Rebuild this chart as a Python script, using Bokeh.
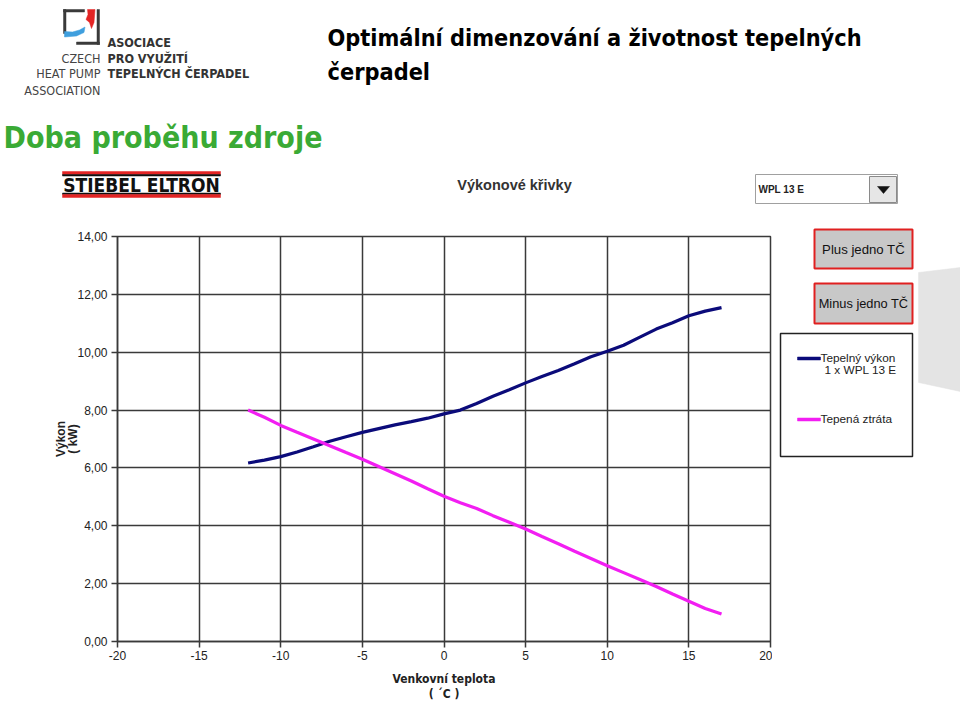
from bokeh.plotting import figure
from bokeh.layouts import column, row
from bokeh.models import Range1d, FixedTicker, Label
from bokeh.embed import file_html
from bokeh.resources import INLINE

# ---------------- data ----------------
temps = list(range(-12, 18))
heat_output = [6.17, 6.27, 6.39, 6.55, 6.73, 6.92, 7.08, 7.23, 7.36, 7.49,
               7.60, 7.72, 7.87, 8.00, 8.23, 8.48, 8.70, 8.94, 9.16, 9.37,
               9.60, 9.84, 10.03, 10.24, 10.52, 10.80, 11.02, 11.26, 11.42, 11.54]
heat_loss = [8.00, 7.75, 7.47, 7.23, 7.00, 6.77, 6.53, 6.30, 6.05, 5.80,
             5.55, 5.28, 5.02, 4.80, 4.60, 4.35, 4.12, 3.89, 3.63, 3.38,
             3.12, 2.87, 2.62, 2.38, 2.14, 1.90, 1.64, 1.39, 1.14, 0.95]
x_ticks = [-20, -15, -10, -5, 0, 5, 10, 15, 20]
x_tick_labels = ["-20", "-15", "-10", "-5", "0", "5", "10", "15", "20"]
y_ticks = [0, 2, 4, 6, 8, 10, 12, 14]
y_tick_labels = ["0,00", "2,00", "4,00", "6,00", "8,00", "10,00", "12,00", "14,00"]
series_names = ["Tepelný výkon", "Tepená ztráta"]
unit_label = "1 x WPL 13 E"
x_title = "Venkovní teplota\n( ´C )"
y_title = "Výkon\n( kW)"

BLUE = "#0b0b7a"
PINK = "#f21ef2"
GRID = "#3a3a3a"
RED = "#e32424"
NARROW = "'Liberation Sans Narrow', 'DejaVu Sans Condensed', sans-serif"
SANS = "'Liberation Sans', Arial, sans-serif"
HEAD_H = 226
W, H = 960, 703


def no_align(f):
    if "frame_align" in f.properties():
        f.frame_align = False
    return f


def deco_fig(w, h, x0, x1, y0, y1):
    f = figure(width=w, height=h, x_range=Range1d(x0, x1), y_range=Range1d(y1, y0),
               output_backend="svg", toolbar_location=None,
               x_axis_location=None, y_axis_location=None, min_border=0)
    f.outline_line_color = None
    f.background_fill_color = "white"
    f.border_fill_color = "white"
    f.xgrid.visible = False
    f.ygrid.visible = False
    return no_align(f)


def label(f, text, px, py, size, color="#000000", bold=False, align="left", font=SANS):
    f.add_layout(Label(x=px, y=py, text=text, text_font_size=f"{size}px",
                       text_color=color, text_font_style="bold" if bold else "normal",
                       text_align=align, text_baseline="middle", text_font=font))


def poly(f, pts, fill, line=None, lw=1.0):
    f.patch([a for a, b in pts], [b for a, b in pts], fill_color=fill,
            line_color=line if line else fill, line_width=lw if line else 0.5)


def rect(f, x0, y0, x1, y1, fill, line=None, lw=1.0):
    poly(f, [(x0, y0), (x1, y0), (x1, y1), (x0, y1)], fill, line, lw)


# ================= header =================
hd = deco_fig(W, HEAD_H, 0, W, 0, HEAD_H)

# association logo
rect(hd, 63, 9, 65.5, 33, "#3a3a3a")
rect(hd, 63, 9, 84, 11.5, "#3a3a3a")
rect(hd, 96.5, 9, 99, 44, "#3a3a3a")
rect(hd, 76, 41.5, 99, 44, "#3a3a3a")
poly(hd, [(87, 9), (94.5, 9), (93.5, 22), (91, 28), (89, 22), (85.5, 19), (87.5, 14)], RED)
poly(hd, [(64, 31), (72, 31.5), (79, 29.5), (84.5, 26.5), (83.5, 32), (76, 35.5), (64, 36.5)], "#3f9fde")
label(hd, "ASOCIACE", 107, 42, 12.5, "#333333", True, font=NARROW)
label(hd, "PRO VYUŽITÍ", 107, 58, 12.5, "#333333", True, font=NARROW)
label(hd, "TEPELNÝCH ČERPADEL", 107, 73, 12.5, "#333333", True, font=NARROW)
label(hd, "CZECH", 100, 58, 12.5, "#444444", align="right", font=NARROW)
label(hd, "HEAT PUMP", 100, 73, 12.5, "#444444", align="right", font=NARROW)
label(hd, "ASSOCIATION", 100, 90, 12.5, "#444444", align="right", font=NARROW)

# slide titles
label(hd, "Optimální dimenzování a životnost tepelných", 327, 37, 23.3, "#000000", True, font=NARROW)
label(hd, "čerpadel", 327, 71, 23.3, "#000000", True, font=NARROW)
label(hd, "Doba proběhu zdroje", 3, 137, 30, "#3aaa35", True, font=NARROW)

# Stiebel Eltron logo
rect(hd, 62, 171, 220, 174, RED)
rect(hd, 62, 174, 220, 175.5, "#111111")
rect(hd, 62, 192.5, 220, 194, "#111111")
rect(hd, 62, 194, 220, 197, RED)
label(hd, "STIEBEL ELTRON", 141, 184, 19, "#111111", True, align="center", font=NARROW)

# chart title
label(hd, "Výkonové křivky", 514, 184, 14.5, "#333333", True, align="center")

# dropdown
rect(hd, 755, 174, 897, 203, "white", "#a0a0a0", 1)
rect(hd, 869, 176, 896, 202, "#e6e6e6", "#8a8a8a", 1)
poly(hd, [(877, 186), (889, 186), (883, 193)], "#111111")
label(hd, "WPL 13 E", 758, 188.5, 10, "#222222", True)

# ================= chart =================
CHART_W = 772
p = figure(width=CHART_W, height=H - HEAD_H, x_range=Range1d(-20, 20), y_range=Range1d(0, 14),
           output_backend="svg", toolbar_location=None,
           min_border_left=117, min_border_right=CHART_W - 770,
           min_border_top=236 - HEAD_H, min_border_bottom=H - 642)
no_align(p)
p.background_fill_color = "white"
p.border_fill_color = "white"
p.outline_line_color = GRID
p.outline_line_width = 1.5

for ax in (p.xaxis[0], p.yaxis[0]):
    ax.axis_line_color = GRID
    ax.axis_line_width = 1.5
    ax.major_tick_line_color = GRID
    ax.major_tick_line_width = 1.5
    ax.major_tick_in = 0
    ax.major_tick_out = 6
    ax.minor_tick_in = 0
    ax.minor_tick_out = 0
    ax.major_label_text_font = SANS
    ax.major_label_text_font_size = "12px"
    ax.major_label_text_color = "#222222"
    ax.axis_label_text_font_style = "bold"
    ax.axis_label_text_color = "#222222"
    ax.axis_label_text_font_size = "12px"
p.xaxis.ticker = FixedTicker(ticks=x_ticks)
p.yaxis.ticker = FixedTicker(ticks=y_ticks)
p.xaxis.major_label_overrides = {t: s for t, s in zip(x_ticks, x_tick_labels)}
p.yaxis.major_label_overrides = {t: s for t, s in zip(y_ticks, y_tick_labels)}
p.xaxis.major_label_standoff = 3
p.yaxis.major_label_standoff = 4
p.xaxis.axis_label = x_title
p.yaxis.axis_label = y_title
p.xaxis.axis_label_text_font = NARROW
p.yaxis.axis_label_text_font = SANS
p.xaxis.axis_label_standoff = 9
p.yaxis.axis_label_standoff = -6
p.xaxis.axis_label_text_line_height = 1.1
p.yaxis.axis_label_text_line_height = 0.9
p.xgrid.ticker = FixedTicker(ticks=x_ticks)
p.ygrid.ticker = FixedTicker(ticks=y_ticks)
for g in (p.xgrid[0], p.ygrid[0]):
    g.grid_line_color = GRID
    g.grid_line_width = 1.5

p.line(temps, heat_output, line_color=BLUE, line_width=3.2)
p.line(temps, heat_loss, line_color=PINK, line_width=3.2)

# ================= right panel =================
rp = deco_fig(W - CHART_W, H - HEAD_H, CHART_W, W, HEAD_H, H)

rect(rp, 814, 229, 912, 268, "#c8c8c8", "#e02020", 2)
label(rp, "Plus jedno TČ", 863, 248.5, 13.2, "#111111", align="center")
rect(rp, 814, 283, 912, 323, "#c8c8c8", "#e02020", 2)
label(rp, "Minus jedno TČ", 863, 303, 12.8, "#111111", align="center")

poly(rp, [(918, 272), (960, 267), (960, 391), (918, 382)], "#e4e4e4")

rect(rp, 780, 333, 912, 456, "white", "#222222", 1.5)
rect(rp, 797, 356.5, 820, 359.5, BLUE)
label(rp, series_names[0], 820, 357.5, 11.8, "#222222")
label(rp, unit_label, 824, 369, 11.8, "#222222")
rect(rp, 797, 417.5, 820, 420.5, PINK)
label(rp, series_names[1], 820, 418.5, 11.8, "#222222")

layout = column(hd, row(p, rp, spacing=0), spacing=0)
open("out.html", "w").write(file_html(layout, INLINE))
